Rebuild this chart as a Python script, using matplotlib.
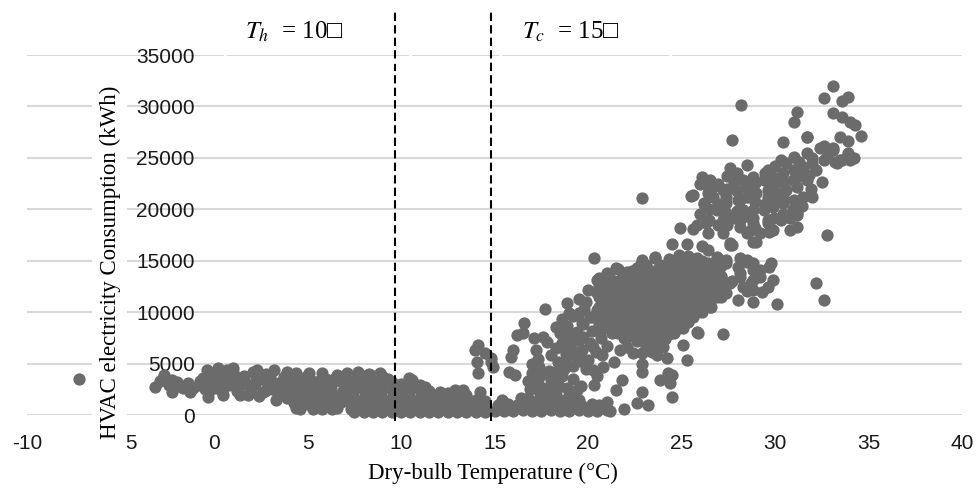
import numpy as np
import matplotlib.pyplot as plt
from matplotlib.patches import Rectangle
from matplotlib.transforms import ScaledTranslation

plt.rcParams['axes.unicode_minus'] = False
plt.rcParams['mathtext.fontset'] = 'stix'

# axis ticks
x_ticks = [-10, -5, 0, 5, 10, 15, 20, 25, 30, 35, 40]
y_ticks = [0, 5000, 10000, 15000, 20000, 25000, 30000, 35000]

# balance-point temperatures (dashed lines as drawn in the source)
threshold_x = [9.7, 14.8]
threshold_text = ['$T_h$  = 10\u25a1', '$T_c$  = 15\u25a1']

# (dry-bulb temperature degC, HVAC consumption kWh)
heating_pts = [
    (-7.2, 3500),
    (-3.15, 2700), (-2.9, 3300), (-2.7, 3900), (-2.4, 2900), (-2.25, 3400),
    (-2.25, 2200), (-1.9, 2800), (-1.65, 2600), (-1.4, 3100), (-1.1, 2600),
    (-0.8, 2900), (-0.6, 3600), (-0.5, 2500), (-0.4, 4400), (0.2, 4600),
    (0.7, 4400), (1.0, 4200), (1.0, 4600), (-0.3, 1750), (0.5, 1950),
    (-0.2, 3200), (0.3, 3700), (0.1, 2600), (0.8, 2900), (0.6, 3400),
    (1.2, 3700), (1.3, 2400), (0.0, 4000), (1.4, 1950), (1.8, 1950),
    (2.1, 4200), (2.3, 4400), (3.2, 4400), (3.3, 1450), (3.9, 1650),
    (1.7, 3000), (2.0, 2500), (2.5, 3500), (2.6, 2200), (2.9, 2900),
    (3.0, 3700), (3.5, 3100), (3.6, 2400), (3.9, 4200), (3.8, 3300),
    (2.4, 1800), (1.6, 3800), (2.8, 4000), (3.4, 2000),
    (-0.25, 2300), (0.25, 3000), (0.75, 3700), (1.25, 2300), (1.75, 3000),
    (2.25, 3700), (2.75, 2300), (3.25, 3000), (3.75, 3700), (-1.3, 2200),
    (-0.75, 3300), (-0.1, 2800), (0.4, 2300), (1.5, 3400), (2.2, 3000),
    (2.9, 3400), (3.1, 2500), (1.1, 3200), (4.0, 2700), (-2.0, 3200),
    (4.4, 4100), (5.1, 4100), (5.8, 4100), (6.6, 3900), (4.2, 3300),
    (5.0, 3900), (7.1, 4100), (4.5, 2500), (4.4, 700), (4.6, 600),
    (4.3, 1500), (4.8, 1800), (4.7, 3000), (5.2, 2300), (5.3, 600),
    (5.8, 600), (6.6, 700), (5.5, 1300), (5.6, 3300), (6.0, 2700),
    (6.2, 1900), (6.4, 3500), (6.9, 2300), (6.8, 1300), (7.2, 3000),
    (7.3, 600), (5.0, 1100), (6.1, 1100), (5.4, 1800), (7.0, 1800), (6.3, 600),
    (4.25, 1200), (4.75, 1200), (5.25, 1200), (5.75, 1200), (6.25, 1200),
    (6.75, 1900), (7.25, 1200), (4.25, 1900), (4.75, 2600), (5.25, 3300),
    (5.75, 1900), (6.25, 2600), (6.75, 3300), (7.25, 2300), (4.6, 3600),
    (5.5, 2600), (6.0, 3500), (7.0, 3600), (5.9, 3000), (5.0, 3000),
    (7.5, 300), (7.5, 1000), (7.5, 1700), (7.5, 2400), (7.5, 3100), (7.5, 3800),
    (8.0, 300), (8.0, 1000), (8.0, 1700), (8.0, 2400), (8.0, 3100), (8.0, 3800),
    (8.5, 300), (8.5, 1000), (8.5, 1700), (8.5, 2400), (8.5, 3100), (8.5, 3800),
    (9.0, 300), (9.0, 1000), (9.0, 1700), (9.0, 2400), (9.0, 3100), (9.0, 3800),
    (9.5, 300), (9.5, 1000), (9.5, 1700), (9.5, 2400), (9.5, 3200),
    (10.0, 300), (10.0, 1000), (10.0, 1700), (10.0, 2400), (10.0, 3000),
    (10.5, 300), (10.5, 1000), (10.5, 1700), (10.5, 2400), (10.5, 3100),
    (11.0, 300), (11.0, 1000), (11.0, 1700), (11.0, 2400), (11.0, 2900),
    (10.4, 3600), (10.6, 3400), (7.7, 4200), (8.3, 4000), (8.9, 4100), (9.3, 3500),
    (11.5, 300), (11.5, 1000), (11.5, 1700), (11.5, 2300), (11.3, 2700),
    (12.0, 300), (12.0, 1000), (12.0, 1700), (12.1, 2200),
    (12.5, 300), (12.5, 1000), (12.5, 1600), (12.5, 2100),
    (13.0, 300), (13.0, 1000), (13.0, 1600), (12.9, 2400),
    (13.5, 300), (13.5, 900), (13.5, 1500), (13.5, 1950),
    (14.0, 300), (14.0, 900), (14.0, 1500),
    (14.5, 300), (14.5, 900), (14.5, 1400),
]

transition_pts = [
    (13.3, 2400), (14.2, 2200), (14.1, 4100), (14.05, 5200), (14.1, 6800),
    (13.95, 6300), (14.5, 6000), (14.8, 5500), (14.9, 4700), (14.8, 5150),
    (15.0, 400), (15.5, 400), (16.0, 350), (16.5, 450), (17.0, 400),
    (17.5, 350), (18.0, 450), (18.5, 400), (19.0, 350), (19.5, 450),
    (20.0, 400), (20.5, 400), (21.0, 500), (21.2, 350),
    (15.2, 1000), (15.7, 1100), (16.2, 1000), (16.7, 1100), (17.2, 1000),
    (17.7, 1100), (18.2, 1000), (18.7, 1100), (19.2, 1000), (19.7, 900), (20.2, 1100),
    (16.4, 1700), (17.6, 1600), (18.1, 1500), (19.5, 1500), (20.6, 1000),
    (15.4, 1460), (15.8, 4200), (16.1, 3900), (16.0, 6300), (15.9, 5600),
    (16.2, 7800), (16.5, 8000), (16.6, 8900), (17.1, 7500), (17.2, 6300),
    (17.6, 7600), (17.8, 7100), (17.7, 10300), (18.0, 5800),
    (16.8, 1700), (16.9, 2500), (16.8, 3300), (17.0, 4100), (17.0, 5000),
    (17.3, 1500), (17.4, 2300), (17.3, 3100), (17.5, 3900), (17.4, 4700),
    (17.3, 5400), (17.9, 1800), (17.8, 2600), (18.0, 3400), (17.9, 4300),
    (18.3, 2200), (18.4, 3000), (18.5, 1500), (18.6, 3800), (18.7, 4500), (18.9, 2600),
    (18.9, 10900), (19.5, 11300), (18.3, 8600), (18.9, 8700), (18.5, 8000),
    (19.0, 7600), (19.4, 8100), (18.6, 9300), (19.2, 9600), (19.8, 10300), (20.2, 9500),
    (18.3, 6500), (18.6, 7000), (18.4, 5200), (18.8, 5900), (19.1, 6700),
    (19.2, 4800), (19.4, 5600), (19.5, 7300), (19.7, 6300), (19.9, 4500),
    (20.0, 5300), (20.1, 7000), (20.2, 8200), (20.4, 6100), (20.5, 3800),
    (20.6, 8800), (20.8, 4700), (20.7, 7500), (21.0, 6700), (21.1, 9100),
    (21.3, 8000), (19.6, 2800), (19.2, 3500), (20.3, 2900),
    (18.25, 4200), (18.75, 5200), (19.25, 5800), (19.75, 5200), (20.25, 4400),
    (20.75, 5800), (18.75, 6400), (19.25, 7800), (19.75, 7600), (20.25, 6600),
    (20.75, 8400), (19.75, 8800), (19.5, 9900), (20.5, 10200), (19.0, 9900),
    (19.0, 1950), (19.4, 2400), (18.9, 800), (19.7, 8900), (20.1, 9500),
    (20.5, 13100), (20.5, 11900), (20.0, 12200), (19.9, 11000), (20.3, 15300),
    (21.0, 1260), (21.9, 580), (22.6, 1170), (23.2, 970), (22.9, 2240),
    (21.5, 2400), (21.8, 3400), (22.9, 4200), (22.9, 5000), (22.9, 6000),
    (23.1, 6600), (23.85, 3400), (24.4, 3100), (24.5, 1750), (24.3, 4100),
    (24.2, 5500), (25.3, 5300), (25.1, 6800), (25.8, 8100), (22.4, 6000),
    (21.9, 7500), (22.1, 6600), (23.4, 6100), (23.7, 5800), (24.5, 3900),
    (25.9, 8000), (27.2, 7900), (21.4, 5200), (21.7, 6300), (24.0, 6600),
]

cooling_pts = [
    (20.6, 9500), (20.6, 10500), (20.6, 11500), (20.6, 12500), (20.6, 13300),
    (21.1, 8500), (21.1, 9500), (21.1, 10500), (21.1, 11500), (21.1, 12500), (21.1, 13500),
    (21.6, 8000), (21.6, 9000), (21.6, 10000), (21.6, 11000), (21.6, 12000), (21.6, 13000), (21.6, 14200),
    (22.1, 7600), (22.1, 8600), (22.1, 9600), (22.1, 10600), (22.1, 11600), (22.1, 12600), (22.1, 13600),
    (22.6, 7200), (22.6, 8200), (22.6, 9200), (22.6, 10200), (22.6, 11200), (22.6, 12200), (22.6, 13200), (22.6, 14300),
    (23.1, 7500), (23.1, 8500), (23.1, 9500), (23.1, 10500), (23.1, 11500), (23.1, 12500), (23.1, 13500), (23.1, 14600),
    (23.6, 7000), (23.6, 8000), (23.6, 9000), (23.6, 10000), (23.6, 11000), (23.6, 12000), (23.6, 13000), (23.6, 14000), (23.6, 15300),
    (24.1, 7400), (24.1, 8400), (24.1, 9400), (24.1, 10400), (24.1, 11400), (24.1, 12400), (24.1, 13400), (24.1, 14500),
    (24.6, 8000), (24.6, 9000), (24.6, 10000), (24.6, 11000), (24.6, 12000), (24.6, 13000), (24.6, 14000), (24.6, 15000),
    (25.1, 8500), (25.1, 9500), (25.1, 10500), (25.1, 11500), (25.1, 12500), (25.1, 13500), (25.1, 14500), (25.1, 15200),
    (25.6, 9500), (25.6, 10500), (25.6, 11500), (25.6, 12500), (25.6, 13500), (25.6, 14400),
    (26.1, 10000), (26.1, 11000), (26.1, 12000), (26.1, 13000), (26.1, 14000), (26.1, 15000),
    (26.6, 10500), (26.6, 11500), (26.6, 12500), (26.6, 13500), (26.6, 14500),
    (27.1, 11500), (27.1, 12500), (27.1, 13500), (27.1, 14500),
    (20.85, 10000), (20.85, 11000), (20.85, 12000), (20.85, 13000),
    (21.35, 9000), (21.35, 10000), (21.35, 11000), (21.35, 12000), (21.35, 13000),
    (21.85, 8500), (21.85, 9500), (21.85, 10500), (21.85, 11500), (21.85, 12500), (21.85, 13500),
    (22.35, 8000), (22.35, 9000), (22.35, 10000), (22.35, 11000), (22.35, 12000), (22.35, 13000), (22.35, 14000),
    (22.85, 7700), (22.85, 8700), (22.85, 9700), (22.85, 10700), (22.85, 11700), (22.85, 12700), (22.85, 13700), (22.85, 14700),
    (23.35, 8000), (23.35, 9000), (23.35, 10000), (23.35, 11000), (23.35, 12000), (23.35, 13000), (23.35, 14000),
    (23.85, 7500), (23.85, 8500), (23.85, 9500), (23.85, 10500), (23.85, 11500), (23.85, 12500), (23.85, 13500), (23.85, 14600),
    (24.35, 7900), (24.35, 8900), (24.35, 9900), (24.35, 10900), (24.35, 11900), (24.35, 12900), (24.35, 13900), (24.35, 15200),
    (24.85, 8500), (24.85, 9500), (24.85, 10500), (24.85, 11500), (24.85, 12500), (24.85, 13500), (24.85, 15600),
    (25.35, 9000), (25.35, 10000), (25.35, 11000), (25.35, 12000), (25.35, 13000), (25.35, 14000), (25.35, 15500),
    (25.85, 10000), (25.85, 11000), (25.85, 12000), (25.85, 13000), (25.85, 15300),
    (26.35, 10800), (26.35, 13000), (26.35, 14000), (26.85, 12000), (26.85, 13000), (26.85, 14000),
    (24.8, 14800), (25.3, 14800), (25.8, 14400), (26.4, 14800), (26.9, 15100),
    (27.4, 15100), (28.1, 15300), (28.5, 15100), (28.8, 14800), (29.2, 14100),
    (29.7, 14400), (21.0, 13800), (21.5, 14300), (22.1, 13900), (22.6, 14300),
    (22.9, 15100), (23.6, 15400),
    (24.5, 16600), (25.3, 16600), (26.1, 16400), (27.6, 16500), (29.0, 16800),
    (24.9, 18200), (25.6, 18100), (26.3, 18700), (26.4, 17700), (22.9, 21100), (25.6, 21400),
    (26.4, 16000), (26.9, 15400), (27.4, 14800), (28.0, 14400), (28.5, 14900),
    (28.8, 14100), (26.5, 14100), (27.1, 13400), (27.6, 12800), (28.1, 13400),
    (28.7, 12800), (26.4, 12200), (26.9, 11500), (27.4, 11900), (28.0, 11200),
    (26.5, 10500), (26.2, 12800), (28.8, 12200), (29.3, 12000), (28.8, 11000),
    (30.1, 10800), (29.8, 14800), (29.9, 13100), (29.6, 12400), (29.2, 13400),
    (28.1, 13800), (28.8, 13100), (28.5, 12100), (27.7, 13000), (28.3, 12400),
    (26.7, 21200), (27.2, 21900), (27.8, 22600), (28.3, 22800), (28.8, 23100),
    (29.4, 22800), (29.9, 23100), (30.4, 23500), (31.0, 23800), (31.5, 24100), (32.0, 24500),
    (26.9, 19900), (27.4, 20600), (28.0, 20900), (28.5, 21200), (29.0, 21600),
    (29.6, 21200), (30.1, 21600), (30.6, 21900), (31.2, 22200), (31.7, 22800),
    (27.2, 19000), (27.8, 19200), (28.3, 19900), (28.8, 19900), (29.4, 19900),
    (29.9, 20200), (30.4, 20600), (31.0, 20900), (31.5, 21200),
    (28.1, 18300), (28.8, 18700), (29.6, 18700), (30.3, 19000), (30.8, 19200), (31.2, 19600),
    (26.45, 19000), (26.45, 20000), (26.45, 22000), (26.95, 18500), (26.95, 20500),
    (26.95, 22500), (27.45, 18500), (27.45, 22000), (27.45, 23200), (27.95, 19800),
    (27.95, 21800), (27.95, 23500), (28.45, 19300), (28.45, 22200), (28.95, 18200),
    (28.95, 20700), (28.95, 22600), (29.45, 20500), (29.45, 23500), (29.95, 19200),
    (29.95, 22300), (30.45, 19500), (30.45, 21200), (30.45, 22700), (30.95, 20000),
    (30.95, 22800), (31.45, 20300), (31.45, 23200), (31.9, 22000), (30.0, 24200),
    (26.1, 23100), (26.5, 22800), (27.6, 24000), (28.5, 24300), (29.6, 23800),
    (30.3, 24800), (31.0, 25100), (31.7, 25500), (32.4, 26000), (33.1, 26000),
    (33.9, 25500), (34.0, 24800), (33.3, 24500), (33.6, 24800), (30.4, 26500),
    (31.7, 27000), (25.5, 21300), (26.0, 22500), (26.2, 20500), (26.0, 19500), (25.8, 18500),
    (26.2, 20600), (26.4, 21600), (26.7, 22200), (27.4, 21200), (28.1, 20900),
    (28.8, 21600), (29.6, 21900), (29.9, 20900), (27.4, 19600), (28.1, 19000),
    (28.8, 19200), (29.6, 19000), (28.5, 17700), (29.2, 17700), (29.9, 18000),
    (27.7, 16500), (27.2, 17700), (27.6, 16700), (28.8, 16800), (28.7, 18000),
    (29.7, 17800), (30.8, 18000), (31.2, 18300), (31.2, 19400), (32.0, 21200),
    (33.1, 32000), (32.6, 30800), (33.6, 30500), (33.9, 30900), (33.1, 29400),
    (33.6, 29000), (34.0, 28500), (34.3, 28200), (34.6, 27100), (33.5, 27000),
    (33.9, 26600), (31.2, 29500), (31.0, 28500), (31.7, 27000), (27.7, 26700),
    (28.2, 30100), (32.6, 26200), (33.1, 25800), (33.9, 25300), (34.1, 25000),
    (33.2, 24600), (32.5, 22700), (32.8, 17500), (32.2, 12800), (32.6, 11200),
    (30.6, 24500), (31.3, 24600), (32.0, 25000), (32.2, 23800),
    (31.8, 23300), (32.6, 24800), (32.8, 25100), (33.5, 24800), (34.2, 25000),
]

fig = plt.figure(figsize=(9.76, 4.92), dpi=100)
ax = fig.add_axes([0.0277, 0.1565, 0.958, 0.7317])
ax.set_xlim(-10, 40)
ax.set_ylim(0, 35000)
ax.set_axisbelow(True)
ax.grid(axis='y', color='#d9d9d9', lw=1.5)
ax.grid(axis='x', visible=False)
ax.set_xticks(x_ticks)
ax.set_yticks(y_ticks)
for s in ax.spines.values():
    s.set_visible(False)
ax.spines['left'].set_position(('data', 0))
ax.tick_params(length=0, labelsize=15, labelcolor='#1a1a1a', pad=14)
for lab in ax.get_xticklabels() + ax.get_yticklabels():
    lab.set_family('Liberation Sans')
# the -5 label sits a little right of its tick, its minus hidden by the y title
lab = ax.get_xticklabels()[1]
lab.set_transform(lab.get_transform() + ScaledTranslation(0.08, 0, fig.dpi_scale_trans))

for pts in (heating_pts, transition_pts, cooling_pts):
    arr = np.array(pts, dtype=float)
    ax.scatter(arr[:, 0], arr[:, 1], s=78, color='#6b6b6b', lw=0,
               zorder=3, clip_on=False)

for xv in threshold_x:
    ax.plot([xv, xv], [-600, 39500], color='black', lw=1.5,
            ls=(0, (4, 2)), zorder=4, clip_on=False)

serif = ['Liberation Serif', 'DejaVu Serif']
fig.text(493 / 976, 1 - 473 / 492, 'Dry-bulb Temperature (°C)', ha='center',
         va='center', fontsize=16.5, family=serif)

# white box behind the y title (hides the gridlines and the minus of -5)
ax.add_patch(Rectangle((92 / 976, 1 - 446 / 492), 34.5 / 976, 366 / 492,
                       transform=fig.transFigure, fc='white', ec='none',
                       zorder=5, clip_on=False))
ax.text(110 / 976, 1 - 262 / 492, 'HVAC electricity Consumption (kWh)',
        transform=fig.transFigure, rotation=90, ha='center', va='center',
        fontsize=16.5, family=serif, zorder=6)

# text boxes of the two annotations (only their white outline shows)
for left, width in ((225, 185), (500, 170)):
    fig.add_artist(Rectangle((left / 976, 1 - 62 / 492), width / 976, 58 / 492,
                             transform=fig.transFigure, fill=False,
                             ec='white', lw=2))
fig.text(245 / 976, 1 - 39 / 492, threshold_text[0], va='baseline',
         fontsize=18, family=serif)
fig.text(522 / 976, 1 - 39 / 492, threshold_text[1], va='baseline',
         fontsize=18, family=serif)

fig.savefig('out.png', dpi=100)
